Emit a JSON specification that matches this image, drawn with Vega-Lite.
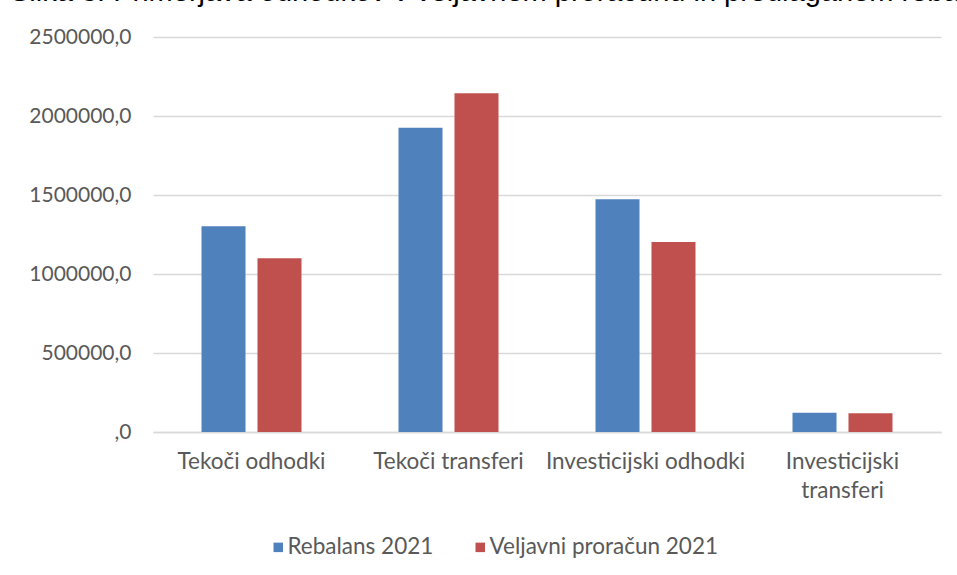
{
  "$schema": "https://vega.github.io/schema/vega-lite/v6.json",
  "width": 788,
  "height": 395,
  "autosize": {"type": "none"},
  "padding": {"left": 153, "top": 37, "right": 16, "bottom": 143},
  "background": "white",
  "title": {
    "text": "Slika 3: Primerjava odhodkov v veljavnem proračunu in predlaganem rebalansu proračuna",
    "anchor": "start",
    "frame": "group",
    "dx": -143,
    "dy": 16,
    "offset": 12,
    "baseline": "alphabetic",
    "font": "Liberation Sans",
    "fontSize": 29,
    "fontWeight": "normal",
    "color": "black",
    "limit": 2000
  },
  "data": {
    "values": [
      {"kategorija": "Tekoči odhodki", "serija": "Rebalans 2021", "vrednost": 1302000},
      {"kategorija": "Tekoči odhodki", "serija": "Veljavni proračun 2021", "vrednost": 1099000},
      {"kategorija": "Tekoči transferi", "serija": "Rebalans 2021", "vrednost": 1926000},
      {"kategorija": "Tekoči transferi", "serija": "Veljavni proračun 2021", "vrednost": 2144000},
      {"kategorija": "Investicijski odhodki", "serija": "Rebalans 2021", "vrednost": 1473000},
      {"kategorija": "Investicijski odhodki", "serija": "Veljavni proračun 2021", "vrednost": 1202500},
      {"kategorija": "Investicijski transferi", "serija": "Rebalans 2021", "vrednost": 122000},
      {"kategorija": "Investicijski transferi", "serija": "Veljavni proračun 2021", "vrednost": 118000}
    ]
  },
  "mark": {"type": "bar"},
  "encoding": {
    "x": {
      "field": "kategorija",
      "type": "nominal",
      "sort": null,
      "scale": {"paddingInner": 0.4924, "paddingOuter": 0.2462},
      "axis": {
        "title": null,
        "labelAngle": 0,
        "ticks": false,
        "domainColor": "#d9d9d9",
        "domainWidth": 1.3,
        "labelPadding": 18,
        "labelFont": "Lato",
        "labelFontSize": 22.5,
        "labelColor": "#595959",
        "labelLineHeight": 29,
        "labelLimit": 400,
        "labelExpr": "datum.label == 'Investicijski transferi' ? ['Investicijski', 'transferi'] : datum.label"
      }
    },
    "xOffset": {
      "field": "serija",
      "type": "nominal",
      "sort": null,
      "scale": {"paddingInner": 0.214, "paddingOuter": 0}
    },
    "y": {
      "field": "vrednost",
      "type": "quantitative",
      "scale": {"domain": [0, 2500000]},
      "axis": {
        "title": null,
        "values": [0, 500000, 1000000, 1500000, 2000000, 2500000],
        "labelExpr": "datum.value == 0 ? ',0' : format(datum.value, 'd') + ',0'",
        "domain": false,
        "ticks": false,
        "labelPadding": 22,
        "labelFont": "Lato",
        "labelFontSize": 21,
        "labelColor": "#595959",
        "gridColor": "#d9d9d9",
        "gridWidth": 1.3
      }
    },
    "color": {
      "field": "serija",
      "type": "nominal",
      "sort": null,
      "scale": {"domain": ["Rebalans 2021", "Veljavni proračun 2021"], "range": ["#4F81BD", "#C0504D"]},
      "legend": {
        "title": null,
        "orient": "none",
        "legendX": 114,
        "legendY": 499,
        "direction": "horizontal",
        "symbolType": "square",
        "symbolSize": 90,
        "symbolStrokeWidth": 0,
        "labelFont": "Lato",
        "labelFontSize": 22.5,
        "labelColor": "#595959",
        "labelOffset": -2,
        "labelLimit": 400,
        "columnPadding": 35
      }
    }
  },
  "config": {"view": {"stroke": null}}
}
